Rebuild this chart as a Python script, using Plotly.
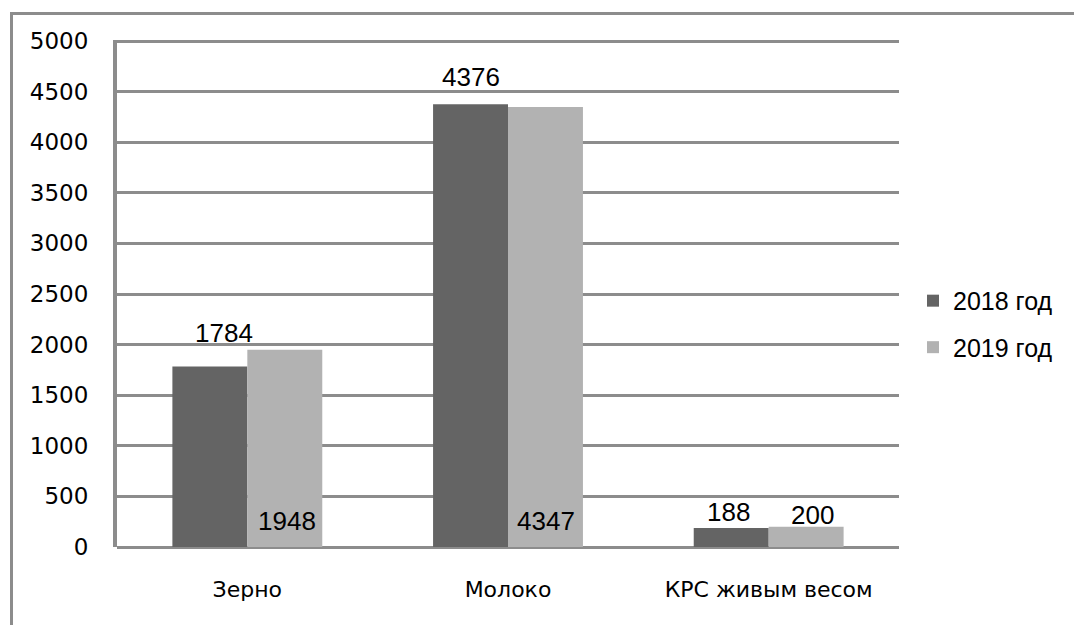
import plotly.graph_objects as go

categories = ["Зерно", "Молоко", "КРС живым весом"]
series_names = ["2018 год", "2019 год"]
values_2018 = [1784, 4376, 188]
values_2019 = [1948, 4347, 200]
y_ticks = [0, 500, 1000, 1500, 2000, 2500, 3000, 3500, 4000, 4500, 5000]

colors = ["#646464", "#b2b2b2"]
GRID = "#8c8c8c"

fig = go.Figure()
for name, vals, col in zip(series_names, [values_2018, values_2019], colors):
    fig.add_trace(go.Bar(
        x=categories, y=vals, name=name, marker_color=col,
        marker_line_width=0, legendgroup=name,
    ))

# label placement styles: (series index, category index, x extra shift px, y mode, y shift px)
bar_offset_px = 37.5
label_styles = [
    (0, 0, 14, "top", 33),
    (1, 0, 2, "base", 26),
    (0, 1, 0, "top", 27),
    (1, 1, 0, "base", 26),
    (0, 2, -3, "top", 16),
    (1, 2, 6, "top", 12),
]
all_vals = [values_2018, values_2019]
for s, c, dx, mode, dy in label_styles:
    v = all_vals[s][c]
    fig.add_annotation(
        x=categories[c], y=(v if mode == "top" else 0),
        xref="x", yref="y", text=str(v), showarrow=False,
        xshift=(-bar_offset_px if s == 0 else bar_offset_px) + dx,
        yshift=dy, yanchor="middle",
        font=dict(family="Liberation Sans", size=26, color="#000000"),
    )

# outer chart border (only top and left visible in the frame)
fig.add_shape(type="rect", xref="paper", yref="paper",
              x0=(11.5 - 117) / 782, x1=1.5, y0=-0.5, y1=(547 - 13.5) / 507,
              line=dict(color=GRID, width=3), fillcolor="rgba(0,0,0,0)", layer="below")

fig.update_layout(
    width=1074, height=625,
    margin=dict(l=117, r=175, t=40, b=78),
    paper_bgcolor="white", plot_bgcolor="white",
    barmode="group", bargap=0.425, bargroupgap=0,
    showlegend=True,
    legend=dict(x=(913 - 117) / 782, xanchor="left", y=0.44, yanchor="middle",
                font=dict(family="Liberation Sans", size=25, color="#000000"),
                traceorder="grouped", tracegroupgap=11, bgcolor="rgba(0,0,0,0)"),
    xaxis=dict(showgrid=False, showline=False, ticks="", ticklabelstandoff=27,
               tickfont=dict(family="DejaVu Sans", size=22, color="#000000")),
    yaxis=dict(range=[0, 5010], tickvals=y_ticks, showgrid=True, gridcolor=GRID, gridwidth=3,
               showline=True, linecolor=GRID, linewidth=4, zeroline=True, zerolinecolor=GRID,
               zerolinewidth=3, ticks="", ticklabelstandoff=20,
               tickfont=dict(family="DejaVu Sans", size=23, color="#000000")),
)

fig.write_html("out.html")
